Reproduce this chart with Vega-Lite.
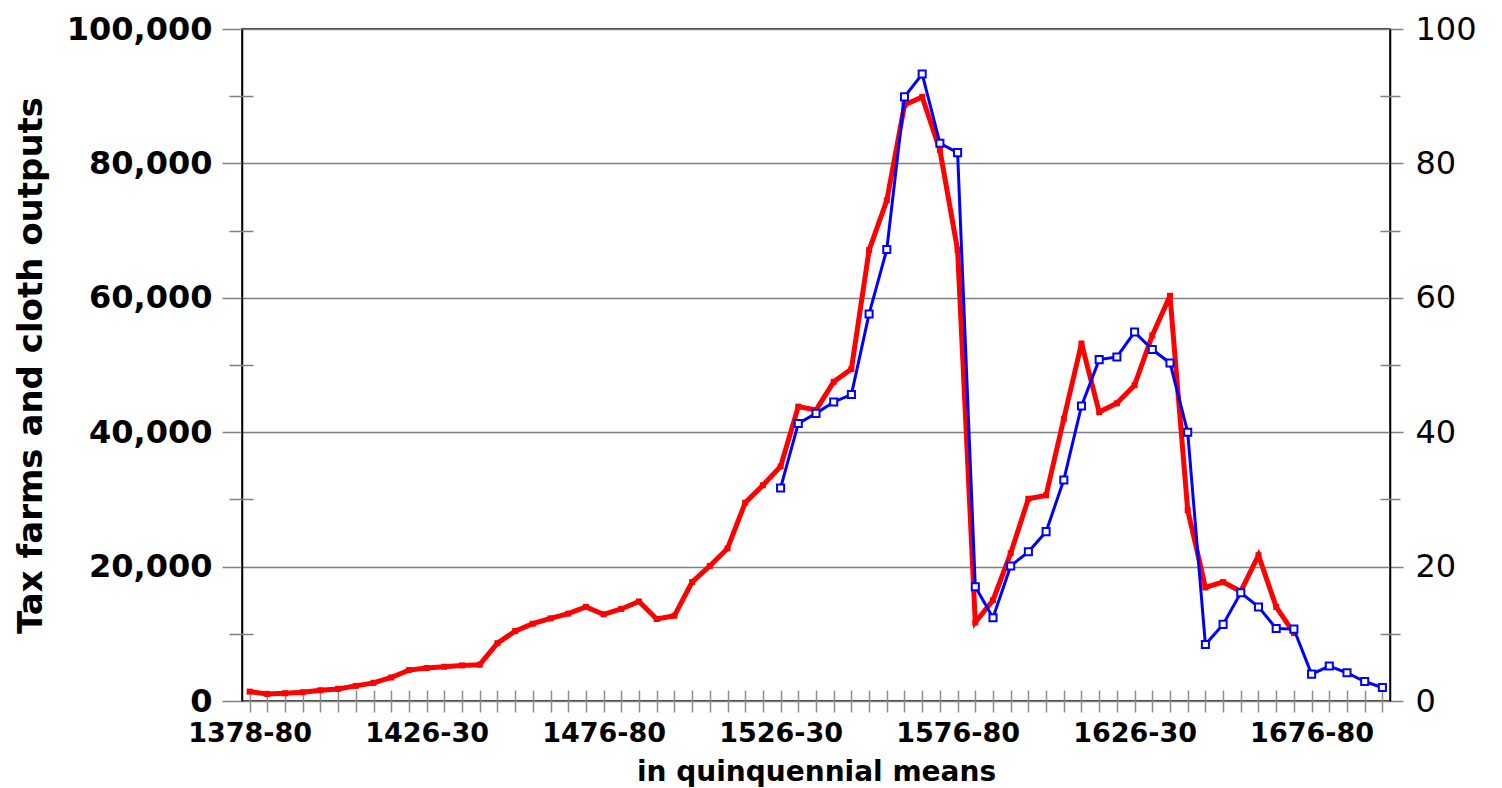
{
  "$schema": "https://vega.github.io/schema/vega-lite/v6.json",
  "width": 1148,
  "height": 672,
  "autosize": {"type": "none"},
  "padding": {"left": 242, "top": 29, "right": 112, "bottom": 87},
  "background": "white",
  "config": {
    "view": {"stroke": "#000000", "strokeWidth": 1.5},
    "axis": {"labelFont": "DejaVu Sans", "titleFont": "DejaVu Sans", "labelColor": "#000000", "titleColor": "#000000"}
  },
  "data": {
    "values": [
      {"period": "1378-80", "tax": 1400, "cloth": null},
      {"period": "1381-85", "tax": 1050, "cloth": null},
      {"period": "1386-90", "tax": 1150, "cloth": null},
      {"period": "1391-95", "tax": 1300, "cloth": null},
      {"period": "1396-1400", "tax": 1600, "cloth": null},
      {"period": "1401-05", "tax": 1800, "cloth": null},
      {"period": "1406-10", "tax": 2250, "cloth": null},
      {"period": "1411-15", "tax": 2700, "cloth": null},
      {"period": "1416-20", "tax": 3500, "cloth": null},
      {"period": "1421-25", "tax": 4600, "cloth": null},
      {"period": "1426-30", "tax": 4900, "cloth": null},
      {"period": "1431-35", "tax": 5100, "cloth": null},
      {"period": "1436-40", "tax": 5300, "cloth": null},
      {"period": "1441-45", "tax": 5400, "cloth": null},
      {"period": "1446-50", "tax": 8600, "cloth": null},
      {"period": "1451-55", "tax": 10400, "cloth": null},
      {"period": "1456-60", "tax": 11500, "cloth": null},
      {"period": "1461-65", "tax": 12300, "cloth": null},
      {"period": "1466-70", "tax": 13000, "cloth": null},
      {"period": "1471-75", "tax": 14000, "cloth": null},
      {"period": "1476-80", "tax": 12900, "cloth": null},
      {"period": "1481-85", "tax": 13700, "cloth": null},
      {"period": "1486-90", "tax": 14800, "cloth": null},
      {"period": "1491-95", "tax": 12200, "cloth": null},
      {"period": "1496-1500", "tax": 12700, "cloth": null},
      {"period": "1501-05", "tax": 17700, "cloth": null},
      {"period": "1506-10", "tax": 20100, "cloth": null},
      {"period": "1511-15", "tax": 22700, "cloth": null},
      {"period": "1516-20", "tax": 29500, "cloth": null},
      {"period": "1521-25", "tax": 32100, "cloth": null},
      {"period": "1526-30", "tax": 34900, "cloth": 31.7},
      {"period": "1531-35", "tax": 43800, "cloth": 41.3},
      {"period": "1536-40", "tax": 43300, "cloth": 42.8},
      {"period": "1541-45", "tax": 47500, "cloth": 44.5},
      {"period": "1546-50", "tax": 49400, "cloth": 45.6},
      {"period": "1551-55", "tax": 67100, "cloth": 57.6},
      {"period": "1556-60", "tax": 74500, "cloth": 67.2},
      {"period": "1561-65", "tax": 88700, "cloth": 89.9},
      {"period": "1566-70", "tax": 89900, "cloth": 93.3},
      {"period": "1571-75", "tax": 82000, "cloth": 83.0},
      {"period": "1576-80", "tax": 67100, "cloth": 81.6},
      {"period": "1581-85", "tax": 11700, "cloth": 17.0},
      {"period": "1586-90", "tax": 15000, "cloth": 12.4},
      {"period": "1591-95", "tax": 22000, "cloth": 20.1},
      {"period": "1596-1600", "tax": 30100, "cloth": 22.2},
      {"period": "1601-05", "tax": 30600, "cloth": 25.2},
      {"period": "1606-10", "tax": 42000, "cloth": 32.9},
      {"period": "1611-15", "tax": 53200, "cloth": 43.9},
      {"period": "1616-20", "tax": 43000, "cloth": 50.8},
      {"period": "1621-25", "tax": 44300, "cloth": 51.2},
      {"period": "1626-30", "tax": 47000, "cloth": 54.9},
      {"period": "1631-35", "tax": 54400, "cloth": 52.3},
      {"period": "1636-40", "tax": 60300, "cloth": 50.3},
      {"period": "1641-45", "tax": 28400, "cloth": 40.0},
      {"period": "1646-50", "tax": 16900, "cloth": 8.4},
      {"period": "1651-55", "tax": 17700, "cloth": 11.4},
      {"period": "1656-60", "tax": 16300, "cloth": 16.1},
      {"period": "1661-65", "tax": 21700, "cloth": 14.0},
      {"period": "1666-70", "tax": 14000, "cloth": 10.8},
      {"period": "1671-75", "tax": 10100, "cloth": 10.7},
      {"period": "1676-80", "tax": null, "cloth": 4.0},
      {"period": "1681-85", "tax": null, "cloth": 5.2},
      {"period": "1686-90", "tax": null, "cloth": 4.2},
      {"period": "1691-95", "tax": null, "cloth": 2.9},
      {"period": "1696-1700", "tax": null, "cloth": 2.0}
    ]
  },
  "encoding": {
    "x": {
      "field": "period",
      "type": "ordinal",
      "scale": {"type": "point", "padding": 0.43},
      "axis": {
        "labelExpr": "indexof(['1378-80','1426-30','1476-80','1526-30','1576-80','1626-30','1676-80'], datum.value) >= 0 ? datum.value : ''",
        "labelAngle": 0,
        "labelOverlap": false,
        "labelBound": false,
        "labelFontSize": 27,
        "labelFontWeight": "bold",
        "labelPadding": 8,
        "tickSize": 22,
        "tickColor": "#8c8c8c",
        "tickWidth": 1.5,
        "offset": -11,
        "domain": false,
        "grid": false,
        "title": "in quinquennial means",
        "titleFontSize": 28,
        "titleFontWeight": "bold",
        "titlePadding": 12
      }
    }
  },
  "layer": [
    {
      "mark": {"type": "line", "color": "#ff0000", "strokeWidth": 5},
      "encoding": {
        "y": {
          "field": "tax",
          "type": "quantitative",
          "scale": {"domain": [0, 100000]},
          "axis": {
            "orient": "left",
            "values": [0, 20000, 40000, 60000, 80000, 100000],
            "format": ",.0f",
            "grid": true,
            "gridColor": "#808080",
            "gridWidth": 1.5,
            "tickColor": "#808080",
            "tickSize": 20,
            "tickWidth": 1.5,
            "domainColor": "#000000",
            "domainWidth": 1.5,
            "labelFontSize": 32,
            "labelFontWeight": "bold",
            "labelPadding": 10,
            "title": "Tax farms and cloth outputs",
            "titleFontSize": 34,
            "titleFontWeight": "bold",
            "titlePadding": 18
          }
        }
      }
    },
    {
      "mark": {"type": "point", "shape": "square", "filled": true, "color": "#ff0000", "size": 36, "opacity": 1},
      "encoding": {
        "y": {
          "field": "tax",
          "type": "quantitative",
          "scale": {"domain": [0, 100000]},
          "axis": {
            "orient": "left",
            "values": [10000, 30000, 50000, 70000, 90000],
            "labels": false,
            "domain": false,
            "grid": false,
            "tickSize": 24,
            "tickColor": "#808080",
            "tickWidth": 1.5,
            "offset": -11,
            "title": null
          }
        }
      }
    },
    {
      "mark": {"type": "line", "color": "#0000ff", "strokeWidth": 3},
      "encoding": {
        "y": {
          "field": "cloth",
          "type": "quantitative",
          "scale": {"domain": [0, 100]},
          "axis": {
            "orient": "right",
            "values": [0, 20, 40, 60, 80, 100],
            "grid": false,
            "tickColor": "#808080",
            "tickSize": 13,
            "tickWidth": 1.5,
            "domainColor": "#000000",
            "domainWidth": 1.5,
            "labelFontSize": 32,
            "labelFontWeight": "normal",
            "labelPadding": 12,
            "title": null
          }
        }
      }
    },
    {
      "mark": {"type": "point", "shape": "square", "filled": true, "fill": "#ffffff", "stroke": "#0000ff", "strokeWidth": 2, "size": 50, "opacity": 1},
      "encoding": {
        "y": {
          "field": "cloth",
          "type": "quantitative",
          "scale": {"domain": [0, 100]},
          "axis": {
            "orient": "right",
            "values": [10, 30, 50, 70, 90],
            "labels": false,
            "domain": false,
            "grid": false,
            "tickSize": 20,
            "tickColor": "#808080",
            "tickWidth": 1.5,
            "offset": -10,
            "title": null
          }
        }
      }
    }
  ],
  "resolve": {"scale": {"y": "independent"}}
}
